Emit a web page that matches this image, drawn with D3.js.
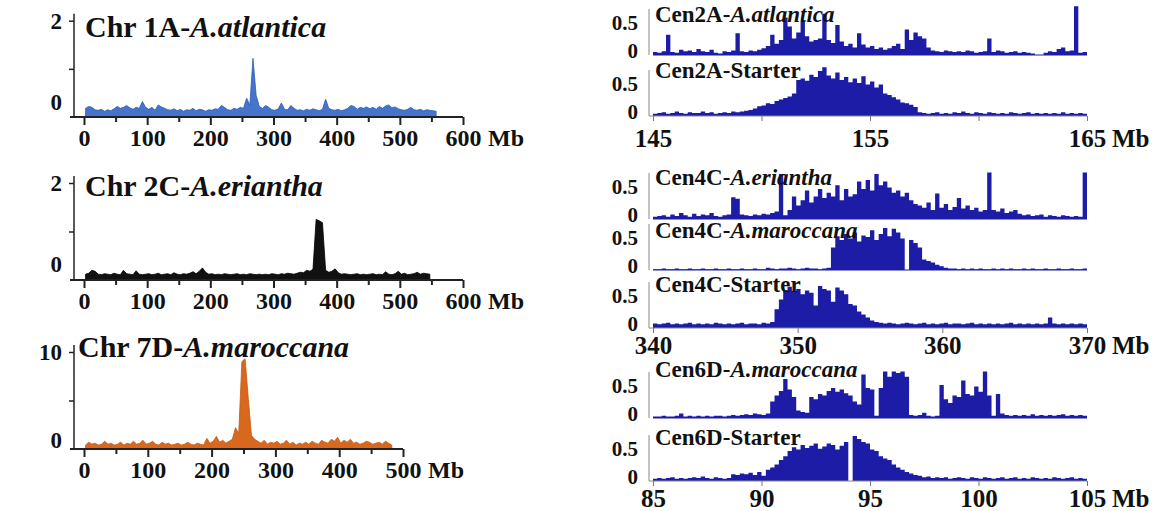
<!DOCTYPE html>
<html>
<head>
<meta charset="utf-8">
<script src="https://cdn.jsdelivr.net/npm/d3@7"></script>
<style>
  body { margin: 0; background: #fff; }
  svg text { font-family: "Liberation Serif", "Times New Roman", serif; font-weight: bold; fill: #111; }
</style>
</head>
<body>
<svg></svg>
<script>
// whole chromosome profiles, 5 Mb windows
const leftBin = 5;
const chr1A = [0.18, 0.22, 0.2, 0.15, 0.14, 0.16, 0.12, 0.15, 0.13, 0.17,
  0.22, 0.18, 0.2, 0.24, 0.19, 0.16, 0.2, 0.18, 0.32, 0.2,
  0.16, 0.2, 0.14, 0.25, 0.21, 0.18, 0.15, 0.14, 0.17, 0.13,
  0.16, 0.12, 0.15, 0.14, 0.18, 0.13, 0.16, 0.15, 0.12, 0.15,
  0.14, 0.17, 0.16, 0.24, 0.2, 0.15, 0.14, 0.18, 0.16, 0.2,
  0.18, 0.39, 0.25, 1.22, 0.45, 0.22, 0.18, 0.24, 0.2, 0.15,
  0.14, 0.17, 0.29, 0.16, 0.15, 0.24, 0.18, 0.14, 0.15, 0.13,
  0.16, 0.14, 0.17, 0.15, 0.13, 0.16, 0.37, 0.18, 0.15, 0.14,
  0.16, 0.13, 0.15, 0.18, 0.24, 0.22, 0.16, 0.2, 0.18, 0.21,
  0.17, 0.2, 0.16, 0.22, 0.18, 0.23, 0.25, 0.19, 0.21, 0.17,
  0.15, 0.14, 0.16, 0.2, 0.15, 0.14, 0.16, 0.13, 0.15, 0.14, 0.13, 0.12];
const chr2C = [0.12, 0.14, 0.2, 0.18, 0.12, 0.11, 0.13, 0.12, 0.11, 0.14,
  0.12, 0.11, 0.2, 0.13, 0.12, 0.11, 0.19, 0.12, 0.11, 0.12,
  0.13, 0.11, 0.12, 0.14, 0.11, 0.12, 0.13, 0.11, 0.15, 0.12,
  0.11, 0.13, 0.12, 0.14, 0.17, 0.13, 0.18, 0.25, 0.16, 0.12,
  0.13, 0.11, 0.12, 0.11, 0.13, 0.12, 0.11, 0.12, 0.13, 0.11,
  0.12, 0.11, 0.13, 0.12, 0.11, 0.12, 0.11, 0.12, 0.11, 0.13,
  0.12, 0.11, 0.13, 0.12, 0.14, 0.13, 0.12, 0.14, 0.16, 0.15,
  0.2, 0.18, 0.22, 1.25, 1.22, 1.18, 0.2, 0.16, 0.18, 0.23,
  0.15, 0.12, 0.13, 0.12, 0.11, 0.12, 0.13, 0.11, 0.12, 0.11,
  0.12, 0.13, 0.11, 0.12, 0.11, 0.17, 0.12, 0.11, 0.13, 0.18,
  0.12, 0.14, 0.11, 0.12, 0.13, 0.16, 0.12, 0.14, 0.13, 0.12];
const chr7D = [0.4, 0.7, 0.5, 0.6, 0.4, 0.5, 0.8, 0.5, 0.6, 0.4,
  0.5, 0.7, 0.4, 0.6, 0.5, 0.8, 0.5, 0.6, 0.9, 0.5,
  0.6, 0.8, 0.5, 0.4, 0.7, 0.5, 0.6, 0.4, 0.5, 0.6,
  0.4, 0.5, 0.7, 0.5, 0.4, 0.6, 0.5, 0.4, 1.1, 0.6,
  0.8, 1.3, 0.7, 0.9, 0.6, 0.8, 1.0, 2.2, 1.6, 9.0,
  9.3, 5.2, 1.4, 1.0, 0.8, 0.6, 0.9, 0.5, 0.7, 0.6,
  0.8, 0.5, 0.6, 0.9, 0.5, 0.7, 0.4, 0.6, 0.5, 0.7,
  0.5, 0.8, 0.6, 0.5, 0.9, 0.7, 0.6, 1.0, 0.8, 1.2,
  0.6, 0.9, 0.7, 1.0, 0.6, 0.7, 0.5, 0.6, 0.8, 0.7,
  0.5, 0.6, 0.7, 0.5, 0.8, 0.6, 0.4];

// centromere windows, 100 bins each
const cen2A_atl = [0.04, 0.03, 0.05, 0.27, 0.04, 0.03, 0.07, 0.05, 0.06, 0.04,
  0.08, 0.05, 0.04, 0.07, 0.03, 0.02, 0.05, 0.04, 0.06, 0.29,
  0.05, 0.04, 0.06, 0.05, 0.07, 0.09, 0.12, 0.27, 0.15, 0.2,
  0.5, 0.38, 0.22, 0.3, 0.46, 0.25, 0.18, 0.2, 0.22, 0.55,
  0.2, 0.16, 0.4, 0.18, 0.12, 0.15, 0.1, 0.29, 0.14, 0.1,
  0.12, 0.08, 0.1, 0.07, 0.09, 0.12, 0.15, 0.08, 0.34, 0.2,
  0.3, 0.25, 0.22, 0.1, 0.06, 0.05, 0.04, 0.06, 0.05, 0.04,
  0.05, 0.04, 0.06, 0.05, 0.03, 0.04, 0.05, 0.22, 0.04, 0.06,
  0.05, 0.03, 0.04, 0.05, 0.03, 0.04, 0.03, 0.02, 0.0, 0.0,
  0.03, 0.05, 0.04, 0.08, 0.1, 0.05, 0.06, 0.65, 0.03, 0.04];
const cen2A_st = [0.03, 0.04, 0.05, 0.03, 0.04, 0.06, 0.04, 0.03, 0.05, 0.04,
  0.04, 0.06, 0.04, 0.05, 0.03, 0.04, 0.05, 0.04, 0.06, 0.05,
  0.06, 0.07, 0.08, 0.1, 0.13, 0.14, 0.17, 0.16, 0.2, 0.22,
  0.24, 0.26, 0.3, 0.48, 0.5, 0.47, 0.55, 0.52, 0.6, 0.65,
  0.54, 0.5, 0.58, 0.48, 0.52, 0.45, 0.5, 0.44, 0.53, 0.42,
  0.46, 0.38, 0.42, 0.3, 0.28, 0.25, 0.22, 0.18, 0.17, 0.15,
  0.12, 0.05, 0.04, 0.03, 0.04, 0.05, 0.03, 0.04, 0.03, 0.05,
  0.04, 0.06, 0.04, 0.03, 0.05, 0.04, 0.03, 0.05, 0.04, 0.03,
  0.04, 0.03, 0.05, 0.04, 0.03, 0.04, 0.05, 0.03, 0.04, 0.03,
  0.04, 0.03, 0.04, 0.03, 0.05, 0.03, 0.04, 0.03, 0.04, 0.03];
const cen4C_eri = [0.03, 0.04, 0.05, 0.03, 0.06, 0.04, 0.08, 0.05, 0.03, 0.07,
  0.04, 0.06, 0.05, 0.08, 0.04, 0.03, 0.05, 0.06, 0.29, 0.27,
  0.06, 0.05, 0.04, 0.06, 0.05, 0.07, 0.06, 0.08, 0.1, 0.6,
  0.05, 0.12, 0.3, 0.18, 0.25, 0.38, 0.22, 0.3, 0.4, 0.28,
  0.35, 0.3, 0.45, 0.25, 0.4, 0.3, 0.33, 0.5, 0.4, 0.52,
  0.38, 0.6, 0.45, 0.5, 0.42, 0.35, 0.38, 0.3, 0.35, 0.25,
  0.2, 0.18, 0.15, 0.22, 0.12, 0.34, 0.15, 0.2, 0.12, 0.16,
  0.28, 0.14, 0.18, 0.12, 0.15, 0.1, 0.12, 0.62, 0.12, 0.1,
  0.14, 0.08, 0.1, 0.12, 0.07, 0.05, 0.06, 0.04, 0.05, 0.06,
  0.03, 0.05, 0.04, 0.03, 0.05, 0.04, 0.03, 0.04, 0.03, 0.62];
const cen4C_mar = [0.01, 0.01, 0.02, 0.01, 0.01, 0.02, 0.01, 0.01, 0.02, 0.01,
  0.01, 0.02, 0.01, 0.01, 0.02, 0.01, 0.01, 0.02, 0.01, 0.01,
  0.02, 0.01, 0.01, 0.02, 0.01, 0.01, 0.03, 0.02, 0.01, 0.02,
  0.02, 0.03, 0.02, 0.01, 0.02, 0.03, 0.02, 0.02, 0.01, 0.02,
  0.03, 0.3, 0.45, 0.4, 0.48, 0.42, 0.5, 0.38, 0.46, 0.44,
  0.53, 0.4, 0.48, 0.56, 0.45, 0.55, 0.5, 0.42, 0.0, 0.4,
  0.36, 0.3, 0.14, 0.12, 0.1, 0.07, 0.05, 0.03, 0.02, 0.02,
  0.01, 0.02, 0.01, 0.02, 0.01, 0.02, 0.01, 0.01, 0.02, 0.01,
  0.02, 0.01, 0.02, 0.01, 0.01, 0.02, 0.01, 0.02, 0.01, 0.01,
  0.02, 0.01, 0.01, 0.02, 0.01, 0.01, 0.02, 0.01, 0.01, 0.02];
const cen4C_st = [0.06, 0.05, 0.06, 0.07, 0.05, 0.06, 0.05, 0.06, 0.07, 0.05,
  0.06, 0.05, 0.06, 0.05, 0.07, 0.06, 0.05, 0.06, 0.05, 0.06,
  0.07, 0.05, 0.06, 0.06, 0.05, 0.07, 0.06, 0.08, 0.25, 0.38,
  0.5, 0.55, 0.48, 0.52, 0.45, 0.5, 0.47, 0.3, 0.56, 0.52,
  0.5, 0.35, 0.54, 0.5, 0.45, 0.32, 0.3, 0.22, 0.18, 0.14,
  0.1, 0.08, 0.07, 0.06, 0.07, 0.06, 0.05, 0.06, 0.07, 0.06,
  0.05, 0.06, 0.07, 0.05, 0.06, 0.05, 0.06, 0.07, 0.05, 0.06,
  0.06, 0.05, 0.06, 0.07, 0.05, 0.06, 0.05, 0.06, 0.05, 0.06,
  0.05, 0.06, 0.07, 0.05, 0.06, 0.05, 0.06, 0.05, 0.06, 0.05,
  0.06, 0.14, 0.06, 0.05, 0.06, 0.05, 0.06, 0.05, 0.06, 0.05];
const cen6D_mar = [0.02, 0.02, 0.03, 0.02, 0.02, 0.03, 0.06, 0.02, 0.03, 0.02,
  0.03, 0.02, 0.03, 0.02, 0.03, 0.03, 0.02, 0.03, 0.04, 0.03,
  0.04, 0.05, 0.04, 0.06, 0.05, 0.04, 0.06, 0.22, 0.3, 0.36,
  0.52, 0.38, 0.28, 0.1, 0.08, 0.07, 0.28, 0.25, 0.32, 0.3,
  0.36, 0.4, 0.35, 0.38, 0.33, 0.3, 0.22, 0.18, 0.58, 0.4,
  0.38, 0.03, 0.4, 0.62, 0.55, 0.62, 0.6, 0.62, 0.55, 0.04,
  0.03, 0.04, 0.07, 0.03, 0.02, 0.03, 0.44, 0.25, 0.2, 0.3,
  0.28, 0.5, 0.32, 0.3, 0.42, 0.35, 0.62, 0.3, 0.03, 0.32,
  0.06, 0.04, 0.03, 0.04, 0.03, 0.04, 0.03, 0.05, 0.03, 0.04,
  0.03, 0.04, 0.03, 0.04, 0.05, 0.03, 0.04, 0.03, 0.04, 0.03];
const cen6D_st = [0.03, 0.04, 0.03, 0.04, 0.05, 0.03, 0.04, 0.03, 0.04, 0.05,
  0.04, 0.06, 0.04, 0.03, 0.05, 0.04, 0.03, 0.04, 0.09, 0.08,
  0.1, 0.09, 0.11, 0.08, 0.12, 0.07, 0.15, 0.18, 0.22, 0.28,
  0.33, 0.4, 0.45, 0.42, 0.48, 0.44, 0.47, 0.5, 0.43, 0.46,
  0.5, 0.48, 0.42, 0.47, 0.52, 0.0, 0.6, 0.56, 0.52, 0.5,
  0.42, 0.4, 0.33, 0.3, 0.28, 0.22, 0.18, 0.15, 0.12, 0.1,
  0.08, 0.07, 0.05, 0.06, 0.04, 0.05, 0.04, 0.05, 0.03, 0.04,
  0.05, 0.04, 0.03, 0.05, 0.04, 0.03, 0.05, 0.04, 0.03, 0.04,
  0.05, 0.03, 0.04, 0.05, 0.03, 0.04, 0.03, 0.05, 0.04, 0.03,
  0.04, 0.03, 0.05, 0.04, 0.03, 0.04, 0.05, 0.03, 0.04, 0.03];

const svg = d3.select("svg").attr("width", 1155).attr("height", 511);

function addTitle(g, x, y, plain, ital, size) {
  const t = g.append("text").attr("x", x).attr("y", y).style("font-size", size + "px");
  t.append("tspan").text(plain);
  if (ital) t.append("tspan").style("font-style", "italic").text(ital);
}

// ---- left column
const leftPanels = [
  {data: chr1A, fill: "#4474cc", line: "#2f5db5", plain: "Chr 1A-", ital: "A.atlantica",
   xMax: 600, xRight: 463, yMax: 2, yTop: 20.7, yBot: 117, zeroUp: 7, titleX: 85, titleY: 37},
  {data: chr2C, fill: "#111", line: "#000", plain: "Chr 2C-", ital: "A.eriantha",
   xMax: 600, xRight: 463, yMax: 2, yTop: 183, yBot: 280, zeroUp: 8, titleX: 85, titleY: 196},
  {data: chr7D, fill: "#d8681d", line: "#c45a12", plain: "Chr 7D-", ital: "A.maroccana",
   xMax: 500, xRight: 403, yMax: 10, yTop: 352, yBot: 449, zeroUp: 1, titleX: 78, titleY: 357}
];

leftPanels.forEach(p => {
  const g = svg.append("g");
  const x = d3.scaleLinear().domain([0, p.xMax]).range([84, p.xRight]);
  const y = d3.scaleLinear().domain([0, p.yMax]).range([p.yBot, p.yTop]);

  const area = d3.area()
    .x((d, i) => x(i * leftBin + leftBin / 2))
    .y0(y(0))
    .y1(d => y(d));
  g.append("path").datum(p.data).attr("d", area)
    .attr("fill", p.fill).attr("stroke", p.line).attr("stroke-width", 0.8);

  // x axis
  g.append("g").attr("transform", `translate(0,${p.yBot})`)
    .call(d3.axisBottom(x).tickValues(d3.range(50, p.xMax, 100)).tickSize(5).tickFormat("").tickSizeOuter(0))
    .call(a => a.select(".domain").remove());
  const xa = g.append("g").attr("transform", `translate(0,${p.yBot})`)
    .call(d3.axisBottom(x).tickValues(d3.range(0, p.xMax + 1, 100)).tickSize(8).tickPadding(4).tickSizeOuter(0));
  xa.select(".domain").remove();
  xa.selectAll("text").style("font-size", "24px");
  g.append("line").attr("x1", 70).attr("x2", x(p.xMax)).attr("y1", p.yBot).attr("y2", p.yBot)
    .attr("stroke", "#222").attr("stroke-width", 2);
  g.selectAll(".tick line").attr("stroke", "#222").attr("stroke-width", 2);
  g.append("text").attr("x", x(p.xMax) + 25).attr("y", p.yBot + 29).style("font-size", "24px").text("Mb");

  // y axis
  const ya = g.append("g").attr("transform", "translate(74,0)")
    .call(d3.axisLeft(y).tickValues([p.yMax / 2, p.yMax]).tickSize(5).tickPadding(7)
      .tickFormat(d => d === p.yMax ? d : "").tickSizeOuter(0));
  ya.select(".domain").remove();
  ya.selectAll("line").attr("stroke", "#222").attr("stroke-width", 1.5);
  ya.selectAll("text").style("font-size", "23px");
  g.append("line").attr("x1", 74).attr("x2", 74).attr("y1", p.yBot).attr("y2", y(p.yMax) - 7)
    .attr("stroke", "#222").attr("stroke-width", 1.5);
  g.append("text").attr("x", 62).attr("y", y(0) - p.zeroUp).attr("text-anchor", "end")
    .style("font-size", "23px").text("0");

  addTitle(g, p.titleX, p.titleY, p.plain, p.ital, 30);
});

// ---- right column
const blue = "#1c1ca6";
const rightGroups = [
  {domain: [145, 165], bin: 0.2, ticks: [145, 150, 155, 160, 165], labels: [145, 155, 165], labelPad: 8,
   panels: [
     {data: cen2A_atl, base: 55, plain: "Cen2A-", ital: "A.atlantica", tUp: 33},
     {data: cen2A_st, base: 116, plain: "Cen2A-Starter", ital: "", tUp: 38}]},
  {domain: [340, 370], bin: 0.3, ticks: [340, 350, 360, 370], labels: [340, 350, 360, 370], labelPad: 3,
   panels: [
     {data: cen4C_eri, base: 219, plain: "Cen4C-", ital: "A.eriantha", tUp: 34},
     {data: cen4C_mar, base: 270, plain: "Cen4C-", ital: "A.maroccana", tUp: 32},
     {data: cen4C_st, base: 328, plain: "Cen4C-Starter", ital: "", tUp: 36}]},
  {domain: [85, 105], bin: 0.2, ticks: [85, 90, 95, 100, 105], labels: [85, 90, 95, 100, 105], labelPad: 3,
   panels: [
     {data: cen6D_mar, base: 418, plain: "Cen6D-", ital: "A.maroccana", tUp: 41},
     {data: cen6D_st, base: 481, plain: "Cen6D-Starter", ital: "", tUp: 36}]}
];

rightGroups.forEach(gp => {
  const x = d3.scaleLinear().domain(gp.domain).range([653, 1087]);
  const last = gp.panels.length - 1;
  gp.panels.forEach((p, k) => {
    const g = svg.append("g");
    const y = d3.scaleLinear().domain([0, 0.6]).range([p.base, p.base - 45]);
    const pts = p.data.map((v, i) => [gp.domain[0] + i * gp.bin, v]);
    pts.push([gp.domain[1], p.data[p.data.length - 1]]);
    const area = d3.area().curve(d3.curveStepAfter)
      .x(d => x(d[0])).y0(y(0)).y1(d => y(d[1]));
    g.append("path").datum(pts).attr("d", area).attr("fill", blue);

    // y axis line and labels
    g.append("line").attr("x1", 649).attr("x2", 649).attr("y1", y(0)).attr("y2", y(0) - 46)
      .attr("stroke", "#888").attr("stroke-width", 1);
    g.append("text").attr("x", 638).attr("y", y(0.5) + 12).attr("text-anchor", "end")
      .style("font-size", "21px").text("0.5");
    g.append("text").attr("x", 638).attr("y", y(0) + 3).attr("text-anchor", "end")
      .style("font-size", "21px").text("0");

    if (k === last) {
      const xa = g.append("g").attr("transform", `translate(0,${p.base})`)
        .call(d3.axisBottom(x).tickValues(gp.ticks).tickSize(5).tickPadding(gp.labelPad)
          .tickFormat(d => gp.labels.includes(d) ? d : "").tickSizeOuter(0));
      xa.select(".domain").remove();
      xa.selectAll("line").attr("stroke", "#777");
      xa.selectAll("text").style("font-size", "25px");
      g.append("line").attr("x1", 649).attr("x2", x(gp.domain[1])).attr("y1", p.base).attr("y2", p.base)
        .attr("stroke", "#888").attr("stroke-width", 1.2);
      g.append("text").attr("x", x(gp.domain[1]) + 25).attr("y", p.base + 23 + gp.labelPad)
        .style("font-size", "25px").text("Mb");
    } else {
      g.append("line").attr("x1", x(gp.domain[0])).attr("x2", x(gp.domain[1])).attr("y1", p.base).attr("y2", p.base)
        .attr("stroke", blue).attr("stroke-width", 1.2);
    }

    addTitle(g, 655, p.base - p.tUp, p.plain, p.ital, 23);
  });
});
</script>
</body>
</html>
